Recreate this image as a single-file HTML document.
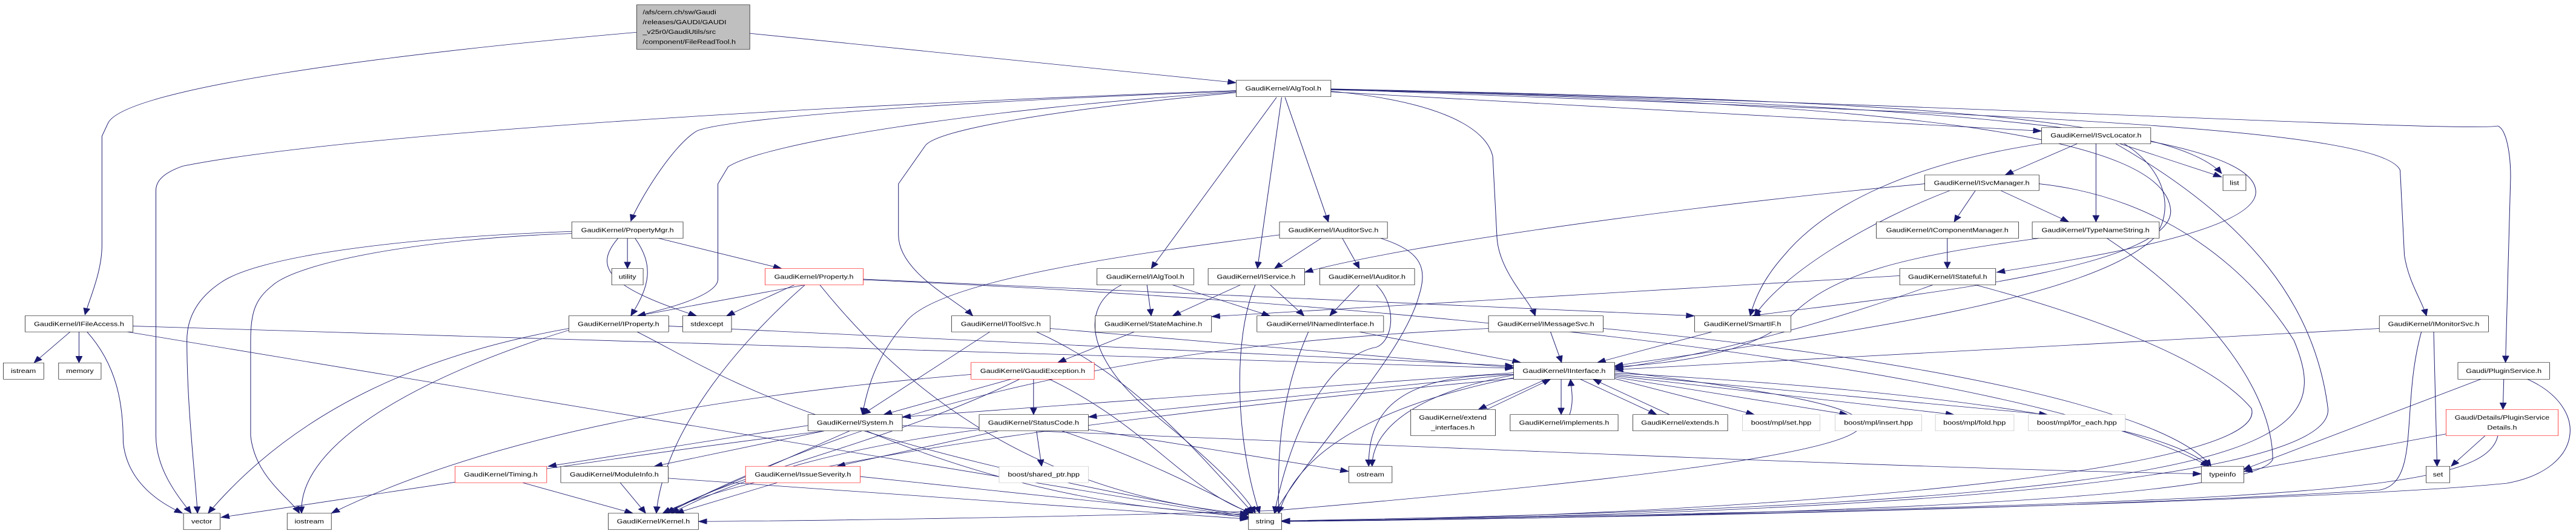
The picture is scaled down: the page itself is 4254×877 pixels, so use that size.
<!DOCTYPE html>
<html><head><meta charset="utf-8"><style>
html,body{margin:0;padding:0;background:#fff;}
svg{display:block;}
text{font-family:"Liberation Sans",sans-serif;font-size:18px;fill:#000;}
.n{fill:#fff;stroke:#000;}
.g{fill:#fff;stroke:#bfbfbf;}
.r{fill:#fff;stroke:#ff0000;}
path{fill:none;stroke:#191970;}
</style></head><body>
<svg width="4254" height="877" viewBox="0 0 6064 1560" preserveAspectRatio="none" xmlns="http://www.w3.org/2000/svg">
<defs><marker id="a" markerUnits="userSpaceOnUse" markerWidth="22" markerHeight="16" refX="20" refY="8" orient="auto"><path d="M0,0 L20,8 L0,16 Z" style="fill:#191970;stroke:#191970"/></marker></defs>
<g marker-end="url(#a)" stroke-width="1.4">
<path d="M1498,95 C900,160 300,260 255,360 L240,400 L240,720 C240,800 210,880 200,925"/>
<path d="M1765,98 L2910,243"/>
<path d="M2910,266 C1500,330 700,420 430,488 C380,510 367,535 367,560 L367,1280 C367,1380 420,1460 450,1508"/>
<path d="M2910,268 C2200,300 1700,350 1640,385 C1580,430 1500,600 1485,650"/>
<path d="M2910,270 C2300,320 1800,420 1714,490 L1690,540 L1690,820 C1690,870 1560,910 1500,928"/>
<path d="M2910,272 C2500,320 2200,380 2177,430 L2115,540 L2115,690 C2115,800 2250,880 2290,928"/>
<path d="M3005,286 L2710,789"/>
<path d="M3017,286 L2960,789"/>
<path d="M3025,286 L3127,652"/>
<path d="M3133,268 C3400,300 3500,380 3514,460 L3524,700 C3530,800 3600,880 3614,928"/>
<path d="M3133,270 L4806,385"/>
<path d="M3133,262 C4300,290 5100,330 5230,510"/>
<path d="M3133,263 C4500,300 5300,380 5310,560 C5320,680 4900,760 4700,800"/>
<path d="M3133,264 C4500,300 5100,400 5110,620 C5110,800 4400,880 4124,928"/>
<path d="M3133,262 C4500,330 5600,360 5650,500 L5660,750 C5670,830 5700,880 5712,928"/>
<path d="M3133,261 C4500,300 5800,390 5880,370 C5900,380 5910,450 5910,520 L5898,1065"/>
<path d="M165,975 L80,1066"/>
<path d="M186,975 L186,1066"/>
<path d="M205,975 C280,1080 290,1200 290,1300 C300,1420 380,1480 430,1508"/>
<path d="M313,958 L3563,1082"/>
<path d="M300,975 L2939,1522"/>
<path d="M1346,680 C900,700 600,760 520,830 C460,880 440,940 440,1000 C440,1200 460,1400 465,1508"/>
<path d="M1346,686 C1000,700 700,770 640,840 C600,880 590,920 590,1000 L590,1280 C600,1400 680,1460 705,1508"/>
<path d="M1477,700 L1477,789"/>
<path d="M1495,700 C1540,780 1530,840 1485,928"/>
<path d="M1455,700 C1400,780 1420,840 1640,928"/>
<path d="M1550,700 L1840,789"/>
<path d="M1339,965 C1000,1040 700,1200 490,1508"/>
<path d="M1339,970 C1000,1100 700,1300 710,1508"/>
<path d="M1574,958 L3563,1075"/>
<path d="M1500,975 C1700,1100 1900,1300 2939,1518"/>
<path d="M1870,837 L1710,928"/>
<path d="M1895,837 L1500,928"/>
<path d="M1930,837 C2100,1100 2400,1450 2939,1510"/>
<path d="M1895,837 C1700,1050 1560,1300 1545,1508"/>
<path d="M2032,820 L3989,928"/>
<path d="M2032,822 C3500,900 4800,1100 5200,1370"/>
<path d="M1230,1418 L1490,1508"/>
<path d="M1460,1418 L1520,1508"/>
<path d="M1573,1405 L2939,1525"/>
<path d="M2700,837 L2710,928"/>
<path d="M2760,837 L2990,928"/>
<path d="M2640,837 C2540,900 2560,1050 2700,1200 C2850,1350 2930,1450 2955,1508"/>
<path d="M2920,837 L2760,928"/>
<path d="M2990,837 L3070,928"/>
<path d="M2955,837 C2900,1000 2910,1300 2965,1508"/>
<path d="M3110,700 L3000,789"/>
<path d="M3160,700 L3200,789"/>
<path d="M3250,700 C3350,740 3360,790 3340,870 C3300,1050 3100,1300 3000,1508"/>
<path d="M3012,690 C2700,740 2200,820 2130,950 C2060,1050 2040,1150 2030,1218"/>
<path d="M3200,837 L3130,928"/>
<path d="M3240,837 C3290,900 3280,1000 3240,1020 C3150,1040 3050,1200 3000,1508"/>
<path d="M2330,975 L2030,1218"/>
<path d="M2440,975 C2660,1100 2800,1300 2950,1508"/>
<path d="M2472,965 L3563,1080"/>
<path d="M2670,975 L2490,1065"/>
<path d="M3200,975 L3580,1065"/>
<path d="M3080,975 C3000,1200 3010,1400 3010,1508"/>
<path d="M3650,975 L3676,1065"/>
<path d="M3504,965 C2900,1000 2200,1100 1570,1508"/>
<path d="M3774,965 C4500,1050 5100,1200 5205,1370"/>
<path d="M4030,975 L3760,1065"/>
<path d="M2380,1114 L2080,1218"/>
<path d="M2433,1114 L2433,1218"/>
<path d="M2470,1114 C2700,1250 2800,1450 2950,1508"/>
<path d="M2400,1114 C2100,1300 1700,1400 1570,1508"/>
<path d="M2286,1100 C1800,1150 1200,1250 780,1508"/>
<path d="M2000,1266 L1560,1508"/>
<path d="M1940,1266 C1400,1350 900,1450 520,1520"/>
<path d="M2040,1266 C2300,1400 2600,1500 2940,1512"/>
<path d="M2124,1250 C3500,1320 4600,1380 5182,1392"/>
<path d="M1940,1266 L1540,1370"/>
<path d="M1902,1250 L1290,1370"/>
<path d="M2350,1266 L1970,1370"/>
<path d="M2440,1266 L2452,1370"/>
<path d="M2562,1262 L3175,1385"/>
<path d="M2500,1266 C2700,1350 2850,1450 2945,1510"/>
<path d="M2305,1262 C1900,1330 1700,1430 1580,1508"/>
<path d="M1830,1418 L1590,1508"/>
<path d="M2025,1400 L2939,1520"/>
<path d="M3640,1114 L3480,1203"/>
<path d="M3500,1203 L3650,1114"/>
<path d="M3675,1114 L3675,1218"/>
<path d="M3695,1218 C3705,1180 3700,1150 3697,1114"/>
<path d="M3720,1114 L3900,1218"/>
<path d="M3930,1218 L3750,1114"/>
<path d="M3800,1112 L4130,1218"/>
<path d="M3801,1108 L4350,1218"/>
<path d="M3801,1104 L4600,1218"/>
<path d="M3801,1100 L4820,1218"/>
<path d="M3563,1102 C3350,1150 3230,1250 3230,1370"/>
<path d="M3563,1100 C3300,1100 3220,1200 3222,1370"/>
<path d="M3563,1110 C3200,1200 3050,1350 3010,1508"/>
<path d="M3801,1096 C4600,1150 5100,1250 5200,1370"/>
<path d="M3563,1095 L2124,1225"/>
<path d="M3563,1100 L2562,1225"/>
<path d="M3563,1112 C2800,1200 1800,1350 1560,1508"/>
<path d="M4890,422 L4720,514"/>
<path d="M4934,422 L4934,652"/>
<path d="M4990,422 L5230,520"/>
<path d="M4980,422 C5300,650 5450,900 5480,1200 C5500,1450 4000,1520 3017,1530"/>
<path d="M5000,422 C5100,500 5120,620 5070,700 C4900,900 4200,1000 3801,1075"/>
<path d="M4806,422 C4500,480 4300,600 4200,750 C4150,820 4130,880 4120,928"/>
<path d="M4650,560 L4600,652"/>
<path d="M4710,560 L4870,652"/>
<path d="M4531,540 C4000,600 3300,720 3071,800"/>
<path d="M4590,560 C4400,650 4200,800 4130,928"/>
<path d="M4800,540 C5100,580 5300,800 5400,1000 C5500,1300 5400,1480 3017,1530"/>
<path d="M4584,700 L4584,789"/>
<path d="M4960,700 C5200,900 5350,1150 5350,1350 C5300,1480 4000,1520 3017,1532"/>
<path d="M4800,700 C4500,750 4300,800 4200,950 C4100,1050 3900,1070 3801,1078"/>
<path d="M4550,837 C4300,950 4000,1050 3801,1082"/>
<path d="M4650,837 C4900,920 5200,1050 5300,1200 C5350,1400 4000,1520 3017,1532"/>
<path d="M4472,810 L2852,930"/>
<path d="M5601,965 L3801,1086"/>
<path d="M5729,975 L5737,1370"/>
<path d="M5700,975 C5650,1200 5700,1420 5600,1440 C4800,1500 3800,1520 3017,1532"/>
<path d="M5894,1114 L5892,1203"/>
<path d="M5840,1114 L5280,1380"/>
<path d="M5950,1114 C6100,1200 6080,1380 5900,1420 C5500,1470 4000,1520 3017,1532"/>
<path d="M5850,1280 L5770,1370"/>
<path d="M5758,1275 L5282,1385"/>
<path d="M5880,1280 C5850,1450 5400,1480 3017,1532"/>
<path d="M3801,1090 C4500,1200 4900,1300 3000,1500 C2500,1520 1900,1530 1644,1532"/>
</g>
<g>
<rect x="1499" y="14" width="266" height="131" style="fill:#bfbfbf;stroke:#000"/>
<text x="1513" y="42">/afs/cern.ch/sw/Gaudi</text>
<text x="1513" y="71">/releases/GAUDI/GAUDI</text>
<text x="1513" y="100">_v25r0/GaudiUtils/src</text>
<text x="1513" y="129">/component/FileReadTool.h</text>
</g>
<g text-anchor="middle">
<rect class="n" x="2910" y="236" width="223" height="48"/><text x="3021" y="266">GaudiKernel/AlgTool.h</text>
<rect class="n" x="59" y="928" width="254" height="47"/><text x="186" y="958">GaudiKernel/IFileAccess.h</text>
<rect class="n" x="8" y="1066" width="95" height="48"/><text x="55" y="1096">istream</text>
<rect class="n" x="138" y="1066" width="100" height="48"/><text x="188" y="1096">memory</text>
<rect class="n" x="432" y="1508" width="86" height="48"/><text x="475" y="1538">vector</text>
<rect class="n" x="676" y="1508" width="104" height="48"/><text x="728" y="1538">iostream</text>
<rect class="n" x="1346" y="652" width="262" height="48"/><text x="1477" y="682">GaudiKernel/PropertyMgr.h</text>
<rect class="n" x="1440" y="789" width="74" height="48"/><text x="1477" y="819">utility</text>
<rect class="n" x="1339" y="928" width="235" height="47"/><text x="1456" y="958">GaudiKernel/IProperty.h</text>
<rect class="r" x="1801" y="789" width="231" height="48"/><text x="1916" y="819">GaudiKernel/Property.h</text>
<rect class="n" x="1607" y="928" width="115" height="47"/><text x="1664" y="958">stdexcept</text>
<rect class="r" x="1071" y="1370" width="216" height="48"/><text x="1179" y="1400">GaudiKernel/Timing.h</text>
<rect class="n" x="1320" y="1370" width="253" height="48"/><text x="1446" y="1400">GaudiKernel/ModuleInfo.h</text>
<rect class="n" x="1432" y="1508" width="212" height="48"/><text x="1538" y="1538">GaudiKernel/Kernel.h</text>
<rect class="n" x="2240" y="928" width="232" height="47"/><text x="2356" y="958">GaudiKernel/IToolSvc.h</text>
<rect class="n" x="2582" y="789" width="228" height="48"/><text x="2696" y="819">GaudiKernel/IAlgTool.h</text>
<rect class="n" x="2844" y="789" width="227" height="48"/><text x="2957" y="819">GaudiKernel/IService.h</text>
<rect class="n" x="2578" y="928" width="274" height="47"/><text x="2715" y="958">GaudiKernel/StateMachine.h</text>
<rect class="n" x="2959" y="928" width="298" height="47"/><text x="3108" y="958">GaudiKernel/INamedInterface.h</text>
<rect class="n" x="3012" y="652" width="254" height="48"/><text x="3139" y="682">GaudiKernel/IAuditorSvc.h</text>
<rect class="n" x="3107" y="789" width="223" height="48"/><text x="3218" y="819">GaudiKernel/IAuditor.h</text>
<rect class="n" x="3504" y="928" width="270" height="47"/><text x="3639" y="958">GaudiKernel/IMessageSvc.h</text>
<rect class="n" x="3989" y="928" width="227" height="47"/><text x="4102" y="958">GaudiKernel/SmartIF.h</text>
<rect class="r" x="2286" y="1065" width="290" height="49"/><text x="2431" y="1096">GaudiKernel/GaudiException.h</text>
<rect class="n" x="1902" y="1218" width="222" height="48"/><text x="2013" y="1248">GaudiKernel/System.h</text>
<rect class="n" x="2305" y="1218" width="257" height="48"/><text x="2433" y="1248">GaudiKernel/StatusCode.h</text>
<rect class="r" x="1755" y="1370" width="270" height="48"/><text x="1890" y="1400">GaudiKernel/IssueSeverity.h</text>
<rect class="g" x="2352" y="1370" width="210" height="48"/><text x="2457" y="1400">boost/shared_ptr.hpp</text>
<rect class="n" x="2939" y="1508" width="78" height="48"/><text x="2978" y="1538">string</text>
<rect class="n" x="3563" y="1065" width="238" height="49"/><text x="3682" y="1096">GaudiKernel/IInterface.h</text>
<rect class="n" x="3321" y="1203" width="199" height="77"/><text x="3420" y="1233">GaudiKernel/extend</text><text x="3420" y="1262">_interfaces.h</text>
<rect class="n" x="3555" y="1218" width="254" height="48"/><text x="3682" y="1248">GaudiKernel/implements.h</text>
<rect class="n" x="3844" y="1218" width="223" height="48"/><text x="3955" y="1248">GaudiKernel/extends.h</text>
<rect class="g" x="4102" y="1218" width="182" height="48"/><text x="4193" y="1248">boost/mpl/set.hpp</text>
<rect class="g" x="4320" y="1218" width="204" height="48"/><text x="4422" y="1248">boost/mpl/insert.hpp</text>
<rect class="g" x="4556" y="1218" width="185" height="48"/><text x="4648" y="1248">boost/mpl/fold.hpp</text>
<rect class="g" x="4775" y="1218" width="228" height="48"/><text x="4889" y="1248">boost/mpl/for_each.hpp</text>
<rect class="n" x="3175" y="1370" width="102" height="48"/><text x="3226" y="1400">ostream</text>
<rect class="n" x="4806" y="375" width="257" height="47"/><text x="4934" y="404">GaudiKernel/ISvcLocator.h</text>
<rect class="n" x="4531" y="514" width="269" height="46"/><text x="4665" y="543">GaudiKernel/ISvcManager.h</text>
<rect class="n" x="5233" y="514" width="54" height="46"/><text x="5260" y="543">list</text>
<rect class="n" x="4417" y="652" width="335" height="48"/><text x="4584" y="682">GaudiKernel/IComponentManager.h</text>
<rect class="n" x="4784" y="652" width="299" height="48"/><text x="4933" y="682">GaudiKernel/TypeNameString.h</text>
<rect class="n" x="4472" y="789" width="226" height="48"/><text x="4585" y="819">GaudiKernel/IStateful.h</text>
<rect class="n" x="5601" y="928" width="257" height="47"/><text x="5729" y="958">GaudiKernel/IMonitorSvc.h</text>
<rect class="n" x="5786" y="1065" width="216" height="49"/><text x="5894" y="1096">Gaudi/PluginService.h</text>
<rect class="r" x="5758" y="1203" width="264" height="77"/><text x="5890" y="1233">Gaudi/Details/PluginService</text><text x="5890" y="1262">Details.h</text>
<rect class="n" x="5182" y="1370" width="100" height="48"/><text x="5232" y="1400">typeinfo</text>
<rect class="n" x="5711" y="1370" width="56" height="48"/><text x="5739" y="1400">set</text>
</g>
</svg>
</body></html>
